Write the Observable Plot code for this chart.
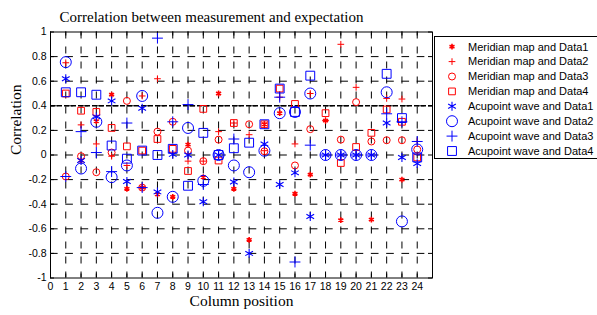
<!DOCTYPE html>
<html><head><meta charset="utf-8">
<script src="https://cdn.jsdelivr.net/npm/d3@7"></script>
<script src="https://cdn.jsdelivr.net/npm/@observablehq/plot@0.6"></script>
<style>body{margin:0;background:#fff;} #chart svg{display:block;}</style>
</head><body><div id="chart"></div>
<script>
const positions = [1,2,3,4,5,6,7,8,9,10,11,12,13,14,15,16,17,18,19,20,21,22,23,24];
const meridianData1 = [null,-0.045,0.275,0.49,-0.275,-0.265,-0.32,-0.34,0.085,-0.18,0.50,-0.275,-0.69,0.25,0.34,-0.315,-0.16,0.28,-0.53,null,-0.525,null,-0.20,null];
const meridianData2 = [0.75,0.245,0.09,-0.01,-0.085,0.48,0.62,null,-0.05,-0.05,0.19,0.26,0.165,0.035,0.47,0.09,0.50,0.28,0.90,0.55,null,0.46,0.455,0.11];
const meridianData3 = [-0.175,-0.01,-0.14,0.02,0.44,-0.265,0.19,0.27,0.036,-0.05,0.125,null,0.25,0.03,null,-0.085,0.21,null,0.125,0.43,0.11,0.12,0.12,0.045];
const meridianData4 = [0.50,0.36,0.35,0.22,0.07,0.036,0.13,0.05,-0.13,0.375,-0.045,0.26,null,0.25,0.54,0.415,null,0.34,-0.065,0.065,0.18,0.37,0.27,-0.02];
const acupointData1 = [0.62,-0.045,0.31,0.44,-0.215,0.38,-0.30,0.005,0.0,-0.38,0.0,-0.22,-0.80,0.09,-0.24,-0.145,-0.50,0,0,0,0,0.26,-0.02,-0.07];
const acupointData2 = [0.755,-0.11,0.27,-0.18,-0.085,0.48,-0.47,-0.34,0.22,-0.21,0.0,-0.085,-0.14,0.035,0.34,0.35,0.50,0,0,0,0,0.51,-0.54,0.045];
const acupointData3 = [-0.175,0.19,0.02,-0.135,0.26,-0.265,0.95,0.27,0.41,-0.24,null,0.13,null,null,0.47,-0.87,0.08,0,0,0,0,0.335,0.27,0.11];
const acupointData4 = [0.51,0.51,0.49,0.077,-0.03,0.036,0.0,0.05,-0.25,0.18,0.0,0.055,0.10,0.25,0.54,0.35,0.645,null,null,null,null,0.66,0.30,-0.02];

const seriesNames = ["Meridian map and Data1","Meridian map and Data2","Meridian map and Data3","Meridian map and Data4",
  "Acupoint wave and Data1","Acupoint wave and Data2","Acupoint wave and Data3","Acupoint wave and Data4"];
const seriesValues = [meridianData1,meridianData2,meridianData3,meridianData4,acupointData1,acupointData2,acupointData3,acupointData4];
const xTicks = [0,1,2,3,4,5,6,7,8,9,10,11,12,13,14,15,16,17,18,19,20,21,22,23,24];
const yTicks = [-1,-0.8,-0.6,-0.4,-0.2,0,0.2,0.4,0.6,0.8,1];
const yTickLabels = ["-1","-0.8","-0.6","-0.4","-0.2","0","0.2","0.4","0.6","0.8","1"];
const gridX = [1,2,3,4,5,6,7,8,9,10,11,12,13,14,15,16,17,18,19,20,21,22,23,24];
const threshold = [0.4];
const titleText = "Correlation between measurement and expectation";
const xLabel = "Column position";
const yLabel = "Correlation";

// marker styles
const styles = [
  {symbol:"asterisk", r:2.7, stroke:"#ff0000", strokeWidth:1.6},
  {symbol:"plus", r:2.3, stroke:"#ff0000", strokeWidth:1},
  {symbol:"circle", r:3.5, stroke:"#ff0000", strokeWidth:1},
  {symbol:"square", r:3.8, stroke:"#ff0000", strokeWidth:1},
  {symbol:"asterisk", r:4.2, stroke:"#0000ff", strokeWidth:1.1},
  {symbol:"circle", r:5.5, stroke:"#0000ff", strokeWidth:1},
  {symbol:"plus", r:3.6, stroke:"#0000ff", strokeWidth:1},
  {symbol:"square", r:5, stroke:"#0000ff", strokeWidth:1}
];

const rows = [];
seriesValues.forEach((vals, i) => vals.forEach((v, j) => {
  if (v !== null) rows.push({x: positions[j], y: v, series: seriesNames[i]});
}));

const W = 597, H = 315, mL = 50, mR = 165, mT = 31.5, mB = 37.5;
const fw = W - mL - mR, fh = H - mT - mB;
const xStep = fw / 25;
const serif = "'Liberation Serif', 'Times New Roman', serif";
const sans = "'Liberation Sans', Arial, sans-serif";

const dotMarks = seriesNames.map((name, i) => Plot.dot(rows.filter(d => d.series === name), {
  x: "x", y: "y", symbol: styles[i].symbol, r: styles[i].r, stroke: styles[i].stroke,
  strokeWidth: styles[i].strokeWidth, fill: "none"
}));

const chart = Plot.plot({
  width: W, height: H,
  marginLeft: mL, marginRight: mR, marginTop: mT, marginBottom: mB,
  style: {fontFamily: sans, fontSize: "10.5px", color: "#000", background: "#fff"},
  x: {domain: [0, 25], ticks: xTicks, tickSize: 0, tickPadding: 5, tickFormat: d => String(d), label: null},
  y: {domain: [-1, 1], ticks: yTicks, tickSize: 0, tickPadding: 4,
      tickFormat: d => yTickLabels[Math.round((d + 1) * 5)], label: null},
  marks: [
    Plot.ruleX(gridX, {x: d => d, stroke: "#000", strokeWidth: 1, strokeDasharray: "7,8"}),
    Plot.ruleY(yTicks.slice(1, -1), {y: d => d, stroke: "#000", strokeWidth: 1, strokeDasharray: `${xStep/2},${xStep/2}`}),
    Plot.ruleY(threshold, {y: d => d, stroke: "#000", strokeWidth: 1.6, strokeDasharray: "5,2"}),
    // inward ticks
    Plot.ruleX(xTicks, {x: d => d, insetTop: fh - 4, stroke: "#000"}),
    Plot.ruleX(xTicks, {x: d => d, insetBottom: fh - 4, stroke: "#000"}),
    Plot.ruleY(yTicks, {y: d => d, insetRight: fw - 4, stroke: "#000"}),
    Plot.ruleY(yTicks, {y: d => d, insetLeft: fw - 4, stroke: "#000"}),
    ...dotMarks,
    Plot.frame({stroke: "#000", strokeWidth: 1}),
    Plot.text([titleText], {frameAnchor: "top", lineAnchor: "middle", dx: -30, dy: -14.5, fontFamily: serif, fontSize: 15, fill: "#000"}),
    Plot.text([xLabel], {frameAnchor: "bottom", lineAnchor: "middle", dy: 23, fontFamily: serif, fontSize: 15.5, fill: "#000"}),
    Plot.text([yLabel], {frameAnchor: "left", lineAnchor: "middle", dx: -34, rotate: -90, fontFamily: serif, fontSize: 15.5, fill: "#000"})
  ]
});

// legend
const svg = d3.select(chart);
const lg = svg.append("g").attr("class", "legend");
lg.append("rect").attr("x", 434.5).attr("y", 36.5).attr("width", 170).attr("height", 122)
  .attr("fill", "#fff").attr("stroke", "#000").attr("stroke-width", 1);
const symMap = {asterisk: d3.symbolAsterisk, plus: d3.symbolPlus, circle: d3.symbolCircle, square: d3.symbolSquare};
seriesNames.forEach((name, i) => {
  const cy = 46.7 + i * 14.9;
  const s = styles[i];
  lg.append("path")
    .attr("transform", `translate(452,${cy})`)
    .attr("d", d3.symbol(symMap[s.symbol], Math.PI * s.r * s.r)())
    .attr("fill", "none").attr("stroke", s.stroke).attr("stroke-width", s.strokeWidth);
  lg.append("text").attr("x", 468).attr("y", cy).attr("dy", "0.35em")
    .attr("text-anchor", "start")
    .attr("font-family", sans).attr("font-size", 11).attr("fill", "#000")
    .text(name);
});

document.getElementById("chart").appendChild(chart);
</script>
</body></html>
